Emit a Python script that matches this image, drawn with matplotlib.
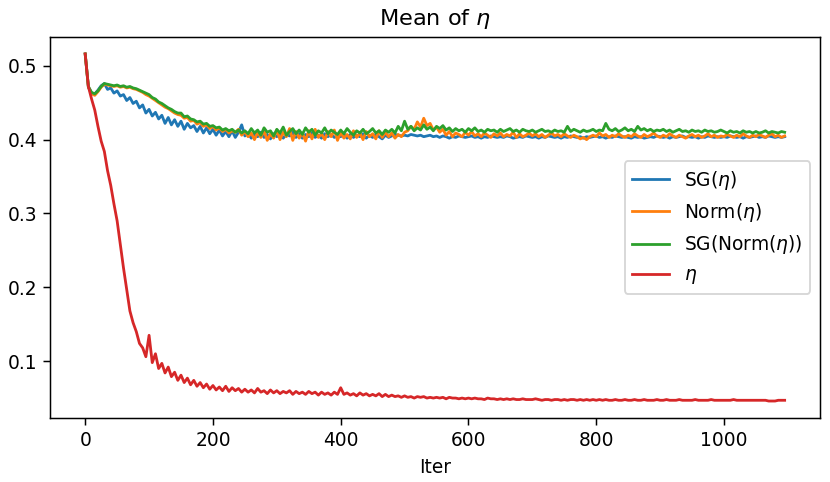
import numpy as np
import matplotlib
matplotlib.use("Agg")
import matplotlib.pyplot as plt

# ── 数据: 每 5 次迭代读一次 ──────────────────────────
iters = np.arange(0, 1100, 5)

sg_eta = [
    0.516, 0.471, 0.463, 0.462, 0.467, 0.473, 0.476, 0.468, 0.470, 0.463,
    0.466, 0.459, 0.461, 0.453, 0.457, 0.449, 0.452, 0.443, 0.447, 0.436,
    0.441, 0.432, 0.437, 0.428, 0.433, 0.422, 0.430, 0.420, 0.427, 0.418,
    0.425, 0.414, 0.422, 0.416, 0.419, 0.411, 0.418, 0.409, 0.416, 0.408,
    0.414, 0.406, 0.413, 0.405, 0.411, 0.404, 0.412, 0.403, 0.410, 0.420,
    0.405, 0.409, 0.402, 0.408, 0.404, 0.410, 0.403, 0.407, 0.401, 0.408,
    0.404, 0.409, 0.402, 0.407, 0.405, 0.410, 0.403, 0.408, 0.402, 0.407,
    0.404, 0.409, 0.403, 0.406, 0.402, 0.408, 0.404, 0.407, 0.403, 0.406,
    0.404, 0.408, 0.402, 0.407, 0.403, 0.406, 0.404, 0.408, 0.402, 0.406,
    0.403, 0.407, 0.404, 0.401, 0.406, 0.403, 0.405, 0.407, 0.406, 0.405,
    0.406, 0.405, 0.407, 0.406, 0.405, 0.406, 0.404, 0.405, 0.406, 0.404,
    0.405, 0.403, 0.405, 0.404, 0.402, 0.404, 0.403, 0.405, 0.404, 0.403,
    0.404, 0.405, 0.403, 0.404, 0.402, 0.404, 0.403, 0.405, 0.404, 0.403,
    0.404, 0.403, 0.405, 0.404, 0.402, 0.403, 0.404, 0.403, 0.405, 0.404,
    0.403, 0.404, 0.402, 0.404, 0.403, 0.405, 0.404, 0.403, 0.404, 0.402,
    0.404, 0.403, 0.405, 0.404, 0.403, 0.404, 0.402, 0.404, 0.403, 0.404,
    0.405, 0.403, 0.404, 0.402, 0.404, 0.403, 0.405, 0.404, 0.403, 0.404,
    0.403, 0.402, 0.404, 0.403, 0.404, 0.402, 0.403, 0.404, 0.403, 0.405,
    0.404, 0.403, 0.404, 0.402, 0.404, 0.403, 0.404, 0.405, 0.403, 0.404,
    0.403, 0.404, 0.402, 0.404, 0.403, 0.405, 0.404, 0.403, 0.404, 0.403,
    0.404, 0.403, 0.405, 0.404, 0.403, 0.404, 0.402, 0.404, 0.403, 0.404,
    0.405, 0.403, 0.404, 0.403, 0.405, 0.404, 0.403, 0.404, 0.403, 0.404,
]

norm_eta = [
    0.516, 0.471, 0.462, 0.460, 0.465, 0.471, 0.475, 0.474, 0.473, 0.472,
    0.473, 0.471, 0.472, 0.470, 0.471, 0.469, 0.468, 0.466, 0.464, 0.461,
    0.459, 0.456, 0.453, 0.450, 0.447, 0.444, 0.442, 0.439, 0.436, 0.434,
    0.433, 0.429, 0.430, 0.425, 0.426, 0.421, 0.423, 0.418, 0.420, 0.415,
    0.418, 0.413, 0.416, 0.411, 0.414, 0.409, 0.412, 0.410, 0.414, 0.406,
    0.411, 0.404, 0.409, 0.400, 0.410, 0.403, 0.412, 0.399, 0.408, 0.402,
    0.413, 0.400, 0.410, 0.404, 0.415, 0.399, 0.411, 0.402, 0.409, 0.398,
    0.412, 0.401, 0.414, 0.403, 0.408, 0.400, 0.411, 0.404, 0.413, 0.399,
    0.410, 0.402, 0.407, 0.401, 0.412, 0.403, 0.409, 0.400, 0.411, 0.404,
    0.408, 0.401, 0.412, 0.403, 0.410, 0.404, 0.409, 0.402, 0.407, 0.404,
    0.410, 0.412, 0.418, 0.414, 0.424, 0.417, 0.429, 0.419, 0.422, 0.413,
    0.417, 0.410, 0.414, 0.406, 0.411, 0.404, 0.409, 0.407, 0.404, 0.410,
    0.406, 0.411, 0.405, 0.408, 0.404, 0.409, 0.406, 0.403, 0.408, 0.405,
    0.409, 0.404, 0.407, 0.405, 0.410, 0.403, 0.408, 0.404, 0.406, 0.409,
    0.405, 0.408, 0.404, 0.407, 0.403, 0.406, 0.409, 0.405, 0.407, 0.404,
    0.408, 0.405, 0.403, 0.406, 0.404, 0.401, 0.403, 0.400, 0.404, 0.406,
    0.404, 0.409, 0.405, 0.407, 0.403, 0.406, 0.404, 0.408, 0.405, 0.403,
    0.406, 0.404, 0.408, 0.405, 0.403, 0.407, 0.404, 0.406, 0.409, 0.405,
    0.403, 0.406, 0.404, 0.408, 0.405, 0.403, 0.406, 0.404, 0.402, 0.405,
    0.407, 0.404, 0.406, 0.403, 0.405, 0.408, 0.404, 0.406, 0.403, 0.405,
    0.404, 0.407, 0.405, 0.403, 0.406, 0.404, 0.408, 0.405, 0.403, 0.406,
    0.404, 0.407, 0.405, 0.403, 0.406, 0.408, 0.404, 0.406, 0.403, 0.405,
]

sg_norm_eta = [
    0.516, 0.472, 0.464, 0.462, 0.466, 0.472, 0.476, 0.475, 0.474, 0.473,
    0.474, 0.472, 0.473, 0.471, 0.472, 0.470, 0.469, 0.467, 0.465, 0.463,
    0.461, 0.457, 0.455, 0.451, 0.449, 0.446, 0.443, 0.441, 0.438, 0.436,
    0.436, 0.431, 0.432, 0.428, 0.427, 0.424, 0.425, 0.421, 0.422, 0.418,
    0.419, 0.416, 0.417, 0.413, 0.415, 0.412, 0.414, 0.410, 0.413, 0.409,
    0.412, 0.408, 0.415, 0.409, 0.413, 0.406, 0.416, 0.410, 0.412, 0.405,
    0.414, 0.409, 0.417, 0.406, 0.411, 0.415, 0.408, 0.413, 0.407, 0.416,
    0.410, 0.414, 0.406, 0.412, 0.409, 0.416, 0.408, 0.413, 0.410, 0.407,
    0.413, 0.408, 0.415, 0.410, 0.406, 0.412, 0.409, 0.414, 0.408, 0.411,
    0.415, 0.409, 0.412, 0.407, 0.413, 0.410, 0.414, 0.409, 0.418, 0.412,
    0.425, 0.414, 0.418, 0.412, 0.416, 0.413, 0.420, 0.414, 0.417, 0.412,
    0.418, 0.415, 0.419, 0.413, 0.416, 0.411, 0.415, 0.412, 0.414, 0.410,
    0.415, 0.412, 0.416, 0.411, 0.413, 0.410, 0.414, 0.412, 0.413, 0.410,
    0.414, 0.411, 0.413, 0.415, 0.411, 0.413, 0.410, 0.414, 0.412, 0.411,
    0.413, 0.410, 0.412, 0.414, 0.411, 0.412, 0.410, 0.413, 0.411, 0.412,
    0.410, 0.418, 0.411, 0.414, 0.412, 0.410, 0.413, 0.411, 0.412, 0.414,
    0.411, 0.413, 0.412, 0.422, 0.414, 0.412, 0.415, 0.411, 0.413, 0.416,
    0.412, 0.414, 0.411, 0.418, 0.413, 0.415, 0.412, 0.414, 0.411, 0.413,
    0.412, 0.414, 0.411, 0.413, 0.410, 0.412, 0.414, 0.411, 0.412, 0.410,
    0.413, 0.411, 0.412, 0.410, 0.413, 0.411, 0.412, 0.410, 0.411, 0.413,
    0.411, 0.409, 0.412, 0.410, 0.411, 0.409, 0.412, 0.410, 0.411, 0.409,
    0.411, 0.409, 0.410, 0.412, 0.409, 0.411, 0.410, 0.409, 0.411, 0.410,
]

eta = [
    0.516, 0.472, 0.455, 0.440, 0.418, 0.398, 0.384, 0.358, 0.338, 0.313,
    0.290, 0.258, 0.226, 0.197, 0.168, 0.152, 0.140, 0.124, 0.118, 0.106,
    0.135, 0.098, 0.110, 0.090, 0.097, 0.084, 0.092, 0.079, 0.085, 0.074,
    0.081, 0.071, 0.077, 0.068, 0.074, 0.066, 0.071, 0.064, 0.069, 0.062,
    0.067, 0.061, 0.065, 0.060, 0.066, 0.059, 0.064, 0.060, 0.063, 0.058,
    0.062, 0.058, 0.061, 0.057, 0.063, 0.058, 0.060, 0.056, 0.061, 0.057,
    0.060, 0.056, 0.059, 0.057, 0.060, 0.055, 0.059, 0.056, 0.058, 0.055,
    0.059, 0.056, 0.058, 0.054, 0.058, 0.055, 0.057, 0.054, 0.058, 0.055,
    0.064, 0.055, 0.057, 0.054, 0.056, 0.053, 0.057, 0.054, 0.056, 0.053,
    0.055, 0.053, 0.056, 0.052, 0.055, 0.052, 0.054, 0.052, 0.053, 0.051,
    0.053, 0.051, 0.052, 0.050, 0.052, 0.051, 0.052, 0.050, 0.051, 0.050,
    0.051, 0.050, 0.051, 0.049, 0.051, 0.050, 0.050, 0.049, 0.050, 0.049,
    0.050, 0.049, 0.050, 0.049, 0.049, 0.048, 0.050, 0.049, 0.049, 0.048,
    0.049, 0.048, 0.049, 0.048, 0.049, 0.048, 0.048, 0.049, 0.048, 0.048,
    0.048, 0.049, 0.048, 0.047, 0.048, 0.048, 0.047, 0.048, 0.048, 0.047,
    0.048, 0.047, 0.048, 0.048, 0.047, 0.048, 0.047, 0.048, 0.047, 0.048,
    0.047, 0.048, 0.047, 0.048, 0.047, 0.047, 0.048, 0.047, 0.047, 0.048,
    0.047, 0.047, 0.048, 0.047, 0.047, 0.048, 0.047, 0.047, 0.047, 0.048,
    0.047, 0.047, 0.048, 0.047, 0.047, 0.047, 0.048, 0.047, 0.047, 0.047,
    0.047, 0.048, 0.047, 0.047, 0.047, 0.047, 0.048, 0.047, 0.047, 0.047,
    0.047, 0.047, 0.047, 0.048, 0.047, 0.047, 0.047, 0.047, 0.047, 0.047,
    0.047, 0.047, 0.047, 0.047, 0.046, 0.046, 0.046, 0.047, 0.047, 0.047,
]

labels = [r"SG($\eta$)", r"Norm($\eta$)", r"SG(Norm($\eta$))", r"$\eta$"]
series = [sg_eta, norm_eta, sg_norm_eta, eta]

# ── 绘图 (dpi 134: 字号/线宽与原图同比例) ─────────────
DPI = 134
fig = plt.figure(figsize=(830 / DPI, 482 / DPI), dpi=DPI)
ax = fig.add_axes([0.0605, 0.132, 0.927, 0.792])

for vals, lab in zip(series, labels):
    ax.plot(iters, vals, label=lab)

ax.set_title(r"Mean of $\eta$")
ax.set_xlabel("Iter")
ax.legend(loc="center right")

fig.savefig("out.png", dpi=DPI)
